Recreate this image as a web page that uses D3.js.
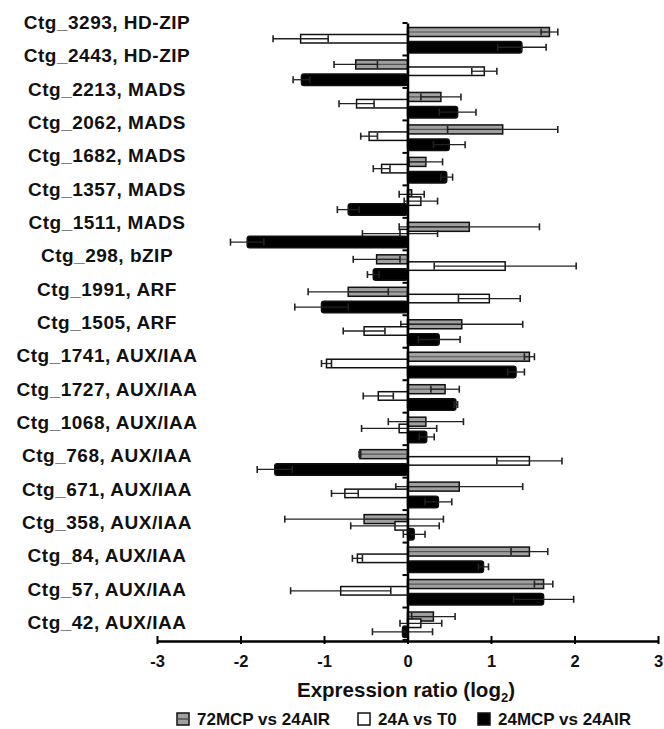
<!DOCTYPE html>
<html><head><meta charset="utf-8">
<script src="https://cdn.jsdelivr.net/npm/d3@7/dist/d3.min.js"></script>
<style>html,body{margin:0;padding:0;background:#fff;}svg{display:block;}</style>
</head><body>
<svg id="chart" width="664" height="729"></svg>
<script>
const categories = ["Ctg_3293, HD-ZIP","Ctg_2443, HD-ZIP","Ctg_2213, MADS","Ctg_2062, MADS","Ctg_1682, MADS","Ctg_1357, MADS","Ctg_1511, MADS","Ctg_298, bZIP","Ctg_1991, ARF","Ctg_1505, ARF","Ctg_1741, AUX/IAA","Ctg_1727, AUX/IAA","Ctg_1068, AUX/IAA","Ctg_768, AUX/IAA","Ctg_671, AUX/IAA","Ctg_358, AUX/IAA","Ctg_84, AUX/IAA","Ctg_57, AUX/IAA","Ctg_42, AUX/IAA"];
const seriesNames = ["72MCP vs 24AIR","24A vs T0","24MCP vs 24AIR"];
const mcp72    = [1.70,-0.62,0.40,1.14,0.22,0.05,0.74,-0.37,-0.71,0.65,1.46,0.45,0.22,-0.57,0.62,-0.52,1.46,1.63,0.31];
const mcp72Err = [0.10,0.26,0.24,0.66,0.20,0.15,0.84,0.28,0.48,0.73,0.06,0.17,0.45,0.01,0.76,0.95,0.22,0.11,0.26];
const a24      = [-1.28,0.92,-0.61,-0.46,-0.31,0.16,-0.09,1.17,0.98,-0.52,-0.97,-0.35,-0.10,1.46,-0.75,-0.15,-0.60,-0.80,0.16];
const a24Err   = [0.33,0.15,0.21,0.10,0.10,0.20,0.45,0.85,0.37,0.25,0.06,0.18,0.45,0.39,0.16,0.53,0.06,0.60,0.25];
const mcp24    = [1.37,-1.27,0.60,0.50,0.47,-0.71,-1.92,-0.41,-1.03,0.38,1.30,0.58,0.23,-1.59,0.37,0.08,0.91,1.63,-0.06];
const mcp24Err = [0.29,0.10,0.22,0.19,0.07,0.13,0.20,0.07,0.32,0.25,0.10,0.02,0.09,0.21,0.16,0.13,0.06,0.36,0.36];
const xTicks = [-3,-2,-1,0,1,2,3];

const svg = d3.select("#chart");
const FONT = "'Liberation Sans', Arial, Helvetica, sans-serif";
const x = d3.scaleLinear().domain([-3,3]).range([157,658]);
const y = d3.scaleBand().domain(categories).range([23,640]).padding(0);
const sub = d3.scalePoint().domain(seriesNames).range([4.5,18.5]);
const labelY = d3.scalePoint().domain(categories).range([22,622]);
const fills = ["#a0a0a0","#ffffff","#000000"];
const heights = [9,8.5,11.5];
const values = [mcp72,a24,mcp24];
const errs = [mcp72Err,a24Err,mcp24Err];

const rows = [];
seriesNames.forEach((s,si)=>{
  categories.forEach((c,ci)=>{
    rows.push({s,si,c,v:values[si][ci],e:errs[si][ci]});
  });
});

const g = svg.append("g");
seriesNames.forEach((s,si)=>{
  const data = rows.filter(r=>r.si===si);
  const gs = g.append("g");
  gs.selectAll("rect").data(data).join("rect")
    .attr("x",d=>Math.min(x(0),x(d.v)))
    .attr("width",d=>Math.abs(x(d.v)-x(0)))
    .attr("y",d=>y(d.c)+sub(s))
    .attr("height",heights[si])
    .attr("rx",si===2?2.5:0)
    .attr("fill",fills[si])
    .attr("stroke","#111").attr("stroke-width",1.5);
  if(si===0){
    gs.selectAll("line.mid").data(data).join("line").attr("class","mid")
      .attr("x1",x(0)).attr("x2",d=>x(d.v))
      .attr("y1",d=>y(d.c)+sub(s)+heights[si]/2).attr("y2",d=>y(d.c)+sub(s)+heights[si]/2)
      .attr("stroke","#555").attr("stroke-width",1.2);
  }
  const eb = gs.selectAll("g.err").data(data).join("g").attr("class","err");
  const cy = d=>y(d.c)+sub(s)+heights[si]/2;
  eb.append("line").attr("x1",d=>x(d.v-d.e)).attr("x2",d=>x(d.v+d.e))
    .attr("y1",cy).attr("y2",cy).attr("stroke","#222").attr("stroke-width",1.3);
  eb.append("line").attr("x1",d=>x(d.v-d.e)).attr("x2",d=>x(d.v-d.e))
    .attr("y1",d=>cy(d)-3.5).attr("y2",d=>cy(d)+3.5).attr("stroke","#222").attr("stroke-width",1.6);
  eb.append("line").attr("x1",d=>x(d.v+d.e)).attr("x2",d=>x(d.v+d.e))
    .attr("y1",d=>cy(d)-3.5).attr("y2",d=>cy(d)+3.5).attr("stroke","#222").attr("stroke-width",1.6);
});

// vertical axis at zero
const yAxis = d3.axisLeft(y).tickSize(5).tickFormat("").tickSizeOuter(0);
const ya = svg.append("g").attr("transform",`translate(${x(0)},0)`).call(yAxis);
ya.select(".domain").attr("stroke","#000").attr("stroke-width",2.5);
ya.selectAll(".tick").attr("transform",d=>`translate(0,${y(d)})`);
ya.selectAll(".tick line").attr("stroke","#000").attr("stroke-width",2);
ya.append("line").attr("x1",0).attr("x2",-5).attr("y1",640).attr("y2",640).attr("stroke","#000").attr("stroke-width",2);

// x axis
const xAxis = d3.axisBottom(x).tickValues(xTicks).tickSize(-5).tickSizeOuter(0).tickPadding(14).tickFormat(d3.format("d"));
const xa = svg.append("g").attr("transform","translate(0,641)").call(xAxis);
xa.select(".domain").attr("stroke","#000").attr("stroke-width",2.5);
xa.selectAll(".tick line").attr("stroke","#000").attr("stroke-width",2).attr("y1",3);
xa.selectAll(".tick text").attr("font-family",FONT).attr("font-weight","bold").attr("font-size",16.5).attr("fill","#111")
  .text(d=>d<0?"-"+Math.abs(d):d);

// category labels
svg.append("g").selectAll("text").data(categories).join("text")
  .attr("x",107).attr("y",d=>labelY(d)).attr("dy","0.36em")
  .attr("text-anchor","middle")
  .attr("font-family",FONT).attr("font-weight","bold").attr("font-size",19)
  .attr("letter-spacing","0.5px").attr("fill","#111").text(d=>d);

// axis title
const t = svg.append("text").attr("x",406).attr("y",697).attr("text-anchor","middle")
  .attr("font-family",FONT).attr("font-weight","bold").attr("font-size",20.5).attr("fill","#111");
t.append("tspan").text("Expression ratio (log");
t.append("tspan").attr("font-size",13).attr("dy",5).text("2");
t.append("tspan").attr("dy",-5).text(")");

// legend
const legendX = [177,358,478];
const lg = svg.append("g");
seriesNames.forEach((s,si)=>{
  const gx = legendX[si];
  lg.append("rect").attr("x",gx).attr("y",713).attr("width",12).attr("height",12)
    .attr("fill",fills[si]).attr("stroke","#111").attr("stroke-width",1.5);
  if(si===0) lg.append("line").attr("x1",gx).attr("x2",gx+12).attr("y1",719).attr("y2",719).attr("stroke","#444").attr("stroke-width",1.3);
  lg.append("text").attr("x",gx+20).attr("y",725).attr("font-family",FONT).attr("font-weight","bold")
    .attr("font-size",17).attr("fill","#111").text(s);
});
</script>
</body></html>
